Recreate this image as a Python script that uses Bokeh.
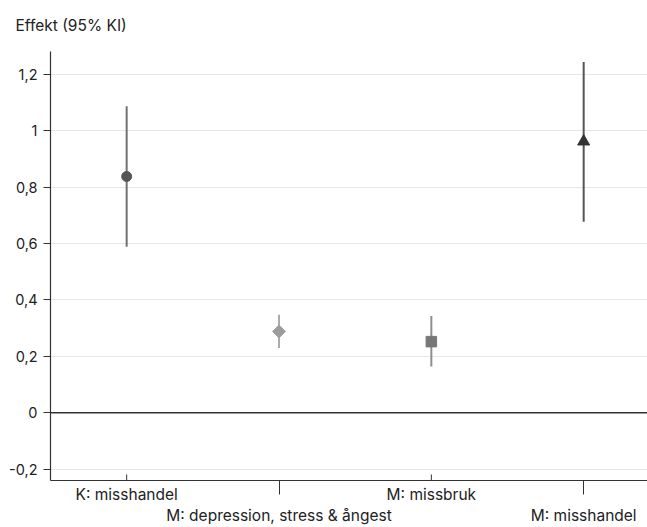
from bokeh.plotting import figure
from bokeh.models import (FixedTicker, CustomJSTickFormatter, LinearAxis, Span, Range1d,
                          ColumnDataSource, CustomLabelingPolicy)
from bokeh.embed import file_html
from bokeh.resources import INLINE

# ---- data ----
categories = ["K: misshandel", "M: depression, stress & ångest", "M: missbruk", "M: misshandel"]
estimates = [0.838, 0.288, 0.252, 0.962]
ci_lower = [0.589, 0.229, 0.164, 0.677]
ci_upper = [1.087, 0.347, 0.343, 1.244]
y_ticks = [-0.2, 0.0, 0.2, 0.4, 0.6, 0.8, 1.0, 1.2]
y_tick_labels = ["-0,2", "0", "0,2", "0,4", "0,6", "0,8", "1", "1,2"]
title_text = "Effekt (95% KI)"

# ---- styles ----
markers = ["circle", "square", "square", "triangle"]
marker_angles = [0.0, 0.785398, 0.0, 0.0]
marker_sizes = [10, 9, 10.5, 12]
marker_colors = ["#555555", "#9c9c9c", "#777777", "#333333"]
ci_colors = ["#727272", "#ababab", "#8e8e8e", "#555555"]
FONT = "Inter"
TEXT = "#222222"
AXIS = "#333333"

x_idx = list(range(len(categories)))
upper_x = x_idx[0::2]
lower_x = x_idx[1::2]
Y_START, Y_END = -0.2407, 1.2814
X_START, X_END = -0.5, 3.419
FRAME_H = 430
PX_PER_UNIT = FRAME_H / (Y_END - Y_START)

src = ColumnDataSource(dict(x=x_idx, est=estimates, lo=ci_lower, hi=ci_upper,
                            marker=markers, angle=marker_angles, size=marker_sizes,
                            mcol=marker_colors, lcol=ci_colors))
tick_src = ColumnDataSource(dict(x=upper_x, y0=[Y_START] * len(upper_x),
                                 y1=[Y_START + 6 / PX_PER_UNIT] * len(upper_x)))

p = figure(width=647, height=527, output_backend="svg", toolbar_location=None,
           x_range=Range1d(X_START, X_END), y_range=Range1d(Y_START, Y_END),
           min_border_left=50, min_border_right=0, min_border_top=51, min_border_bottom=46,
           title=title_text)
p.outline_line_color = None
p.background_fill_color = "white"
p.border_fill_color = "white"

p.title.text_font = FONT
p.title.text_font_size = "15.5px"
p.title.text_font_style = "normal"
p.title.text_color = TEXT
p.title.align = "left"
p.title.offset = -35
p.title.standoff = 30
p.title.vertical_align = "top"

# horizontal grid
p.xgrid.visible = False
p.ygrid.ticker = FixedTicker(ticks=y_ticks)
p.ygrid.grid_line_color = "#e6e6e6"
p.ygrid.grid_line_width = 1

# y axis
ylab = CustomJSTickFormatter(args=dict(yt=y_ticks, yl=y_tick_labels), code="""
let best = 0;
for (let i = 0; i < yt.length; i++) {
  if (Math.abs(yt[i] - tick) < Math.abs(yt[best] - tick)) best = i;
}
return yl[best];
""")
yax = p.yaxis[0]
yax.ticker = FixedTicker(ticks=y_ticks)
yax.formatter = ylab
yax.axis_line_color = AXIS
yax.axis_line_width = 1.2
yax.major_tick_line_color = AXIS
yax.major_tick_out = 7
yax.major_tick_in = 0
yax.minor_tick_line_color = None
yax.major_label_standoff = 6
yax.major_label_text_font = FONT
yax.major_label_text_font_size = "14.5px"
yax.major_label_text_color = TEXT

xfmt = CustomJSTickFormatter(args=dict(names=categories),
                             code="return names[Math.round(tick)] || '';")

# axis A: axis line and long outward ticks at the lower-row categories (labels suppressed)
xax = p.xaxis[0]
xax.ticker = FixedTicker(ticks=lower_x)
xax.formatter = xfmt
xax.axis_line_color = AXIS
xax.axis_line_width = 1.2
xax.major_tick_line_color = AXIS
xax.major_tick_out = 14
xax.major_tick_in = 0
xax.minor_tick_line_color = None
xax.major_label_standoff = 0
xax.major_label_text_font_size = "0px"
xax.major_label_policy = CustomLabelingPolicy(code="return []")

# axis B: upper-row labels
xaxB = LinearAxis(ticker=FixedTicker(ticks=upper_x), formatter=xfmt)
xaxB.axis_line_color = None
xaxB.major_tick_line_color = None
xaxB.major_tick_out = 0
xaxB.major_tick_in = 0
xaxB.minor_tick_line_color = None
xaxB.major_label_standoff = -10
xaxB.major_label_text_font = FONT
xaxB.major_label_text_font_size = "15.5px"
xaxB.major_label_text_color = TEXT
p.add_layout(xaxB, "below")

# axis C: lower-row labels
xaxC = LinearAxis(ticker=FixedTicker(ticks=lower_x), formatter=xfmt)
xaxC.axis_line_color = None
xaxC.major_tick_line_color = None
xaxC.major_tick_out = 0
xaxC.major_tick_in = 0
xaxC.minor_tick_line_color = None
xaxC.major_label_standoff = -1
xaxC.major_label_text_font = FONT
xaxC.major_label_text_font_size = "15.5px"
xaxC.major_label_text_color = TEXT
p.add_layout(xaxC, "below")

# zero line
p.add_layout(Span(location=0, dimension="width", line_color=AXIS, line_width=1.5))

# short inward ticks at the upper-row categories
p.segment(x0="x", y0="y0", x1="x", y1="y1", source=tick_src, line_color=AXIS, line_width=1)

# CI lines and markers
p.segment(x0="x", y0="lo", x1="x", y1="hi", source=src, line_color="lcol", line_width=2)
p.scatter(x="x", y="est", source=src, marker="marker", size="size", angle="angle",
          fill_color="mcol", line_color="mcol")

open("out.html", "w").write(file_html(p, INLINE))
